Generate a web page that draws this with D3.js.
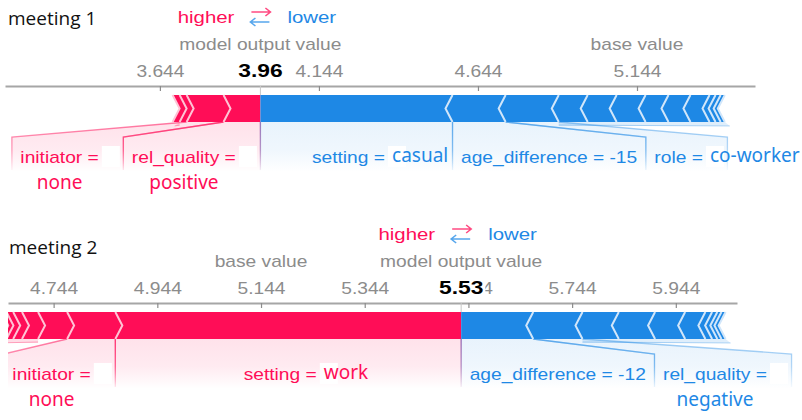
<!DOCTYPE html>
<html lang="en">
<head>
<meta charset="utf-8">
<title>Force plots: meeting 1 and meeting 2</title>
<script src="https://cdn.jsdelivr.net/npm/d3@7"></script>
<style>
  body { margin: 0; background: #fff; }
  svg { display: block; }
</style>
</head>
<body>
<script>
// ---- meeting 1 ----
var title1 = "meeting 1";
var base1 = 5.144;
var out1 = 3.96;
var domain1 = [3.157, 5.515];
var ticks1 = [3.644, 4.144, 4.644, 5.144];
// features pushing higher (red), nearest to the output value first
var posNames1 = ["rel_quality =", "initiator =", "", ""];
var posVals1 = ["positive", "none", "", ""];
var posEff1 = [0.116, 0.116, 0.022, 0.022];
// features pushing lower (blue), nearest to the output value first
var negNames1 = ["setting =", "age_difference = -15", "role =", "", "", "", "", "", "", "", "", ""];
var negVals1 = ["casual", "", "co-worker", "", "", "", "", "", "", "", "", ""];
var negEff1 = [0.604, 0.167, 0.167, 0.091, 0.091, 0.091, 0.072, 0.069, 0.060, 0.019, 0.016, 0.013];

// ---- meeting 2 ----
var title2 = "meeting 2";
var base2 = 5.144;
var out2 = 5.53;
var domain2 = [4.656, 6.062];
var ticks2 = [4.744, 4.944, 5.144, 5.344, 5.544, 5.744, 5.944];
var posNames2 = ["setting =", "initiator =", "", "", "", "", "", ""];
var posVals2 = ["work", "none", "", "", "", "", "", ""];
var posEff2 = [0.667, 0.093, 0.056, 0.031, 0.017, 0.013, 0.010, 0.008];
var negNames2 = ["age_difference = -12", "rel_quality =", "", "", "", "", "", "", "", ""];
var negVals2 = ["", "negative", "", "", "", "", "", "", "", ""];
var negEff2 = [0.139, 0.095, 0.070, 0.070, 0.058, 0.039, 0.013, 0.010, 0.008, 0.008];

// labels whose value sits on a second line
var stacked = ["initiator =", "rel_quality ="];

var W = 802, H = 420;
var SX = 1.2;            // the picture is stretched sideways
var RED = "#ff0d57", BLUE = "#1e88e5";
var RED_L = "rgb(255,195,213)", BLUE_L = "rgb(209,230,250)";
var ARIAL = "'Liberation Sans', Arial, sans-serif";
var VALFONT = "'Noto Sans', 'Open Sans', sans-serif";
var GRAY = "#8c8c8c";

var svg = d3.select("body").append("svg")
    .attr("width", W)
    .attr("height", H);
svg.append("rect").attr("width", W).attr("height", H).attr("fill", "#fff");
var defs = svg.append("defs");

// hidden text for measuring
var meas = svg.append("text").attr("font-family", ARIAL).attr("font-size", 16)
    .attr("visibility", "hidden");
function tw(s) { meas.text(s); return meas.node().getComputedTextLength() * SX; }

function sText(g, x, y, s, size, fill, anchor, weight) {
  return g.append("text")
    .attr("transform", "translate(" + x + "," + y + ") scale(" + SX + ",1)")
    .attr("font-family", ARIAL)
    .attr("font-size", size)
    .attr("font-weight", weight || "normal")
    .attr("text-anchor", anchor || "start")
    .attr("fill", fill)
    .text(s);
}

function drawForce(o) {
  var x = d3.scaleLinear().domain(o.domain).range(o.range);
  var g = svg.append("g");
  var axisY = o.axisY;
  var barTop = axisY + 9, barH = 27, bb = barTop + barH, mid = barTop + barH / 2;
  var xo = x(o.out);
  var T = 7, PAD = 17;
  var codeW = tw("= 0") - tw("=");

  function grad(id, color, a0, a1) {
    var lg = defs.append("linearGradient").attr("id", id)
      .attr("gradientUnits", "userSpaceOnUse")
      .attr("x1", 0).attr("x2", 0).attr("y1", bb).attr("y2", bb + 50);
    lg.append("stop").attr("offset", "0%").attr("stop-color", color).attr("stop-opacity", a0);
    lg.append("stop").attr("offset", "55%").attr("stop-color", color).attr("stop-opacity", a0 * 0.7);
    lg.append("stop").attr("offset", "100%").attr("stop-color", color).attr("stop-opacity", a1);
  }
  grad(o.id + "rf", RED, 0.12, 0);
  grad(o.id + "bf", BLUE, 0.10, 0);
  grad(o.id + "rs", RED, 0.55, 0.02);
  grad(o.id + "bs", BLUE, 0.45, 0.02);

  defs.append("clipPath").attr("id", "clip" + o.id)
    .append("rect").attr("x", o.range[0]).attr("y", 0).attr("width", W - o.range[0]).attr("height", H);

  // build blocks
  var cum = 0;
  var pos = o.posEff.map(function(e, i) {
    var hi = o.out - cum; cum += e;
    return { i: i, lo: o.out - cum, hi: hi, name: o.posNames[i], val: o.posVals[i], side: "pos" };
  });
  cum = 0;
  var neg = o.negEff.map(function(e, i) {
    var lo = o.out + cum; cum += e;
    return { i: i, lo: lo, hi: o.out + cum, name: o.negNames[i], val: o.negVals[i], side: "neg" };
  });

  // label regions
  var prev = xo;
  pos.forEach(function(d) {
    if (!d.name) return;
    d.bl = x(d.lo); d.br = x(d.hi);
    d.nameW = tw(d.name);
    var lw = d.nameW + (d.val ? codeW : 0) + PAD;
    d.rr = Math.min(d.br, prev);
    d.rl = Math.min(d.bl, d.rr - lw);
    prev = d.rl;
  });
  prev = xo;
  neg.forEach(function(d) {
    if (!d.name) return;
    d.bl = x(d.lo); d.br = x(d.hi);
    d.nameW = tw(d.name);
    var lw = d.nameW + (d.val ? codeW : 0) + PAD;
    d.rl = Math.max(d.bl, prev);
    d.rr = Math.max(d.br, d.rl + lw);
    prev = d.rr;
  });
  var labeled = pos.filter(function(d) { return d.name; })
    .concat(neg.filter(function(d) { return d.name; }));

  var under = g.append("g").attr("clip-path", "url(#clip" + o.id + ")");

  // connector fills
  under.selectAll("path.conn").data(labeled).enter().append("path")
    .attr("d", function(d) {
      return "M" + d.bl + "," + bb + "L" + d.br + "," + bb +
        "L" + d.rr + "," + (bb + 15) + "L" + d.rr + "," + (bb + 50) +
        "L" + d.rl + "," + (bb + 50) + "L" + d.rl + "," + (bb + 15) + "Z";
    })
    .attr("fill", function(d) { return "url(#" + o.id + (d.side === "pos" ? "rf" : "bf") + ")"; });

  // thin bands under the unlabelled tails
  function tail(list, side) {
    var rest = list.filter(function(d) { return !d.name; });
    if (!rest.length) return;
    var a = x(rest[0].lo), b = x(rest[rest.length - 1].hi);
    if (side === "pos") { var t = a; a = b; b = t; }
    var col = side === "pos" ? RED : BLUE;
    var far = side === "pos" ? a - 5 : b + 5;
    under.append("path")
      .attr("d", "M" + a + "," + bb + "L" + b + "," + bb + "L" + (side === "pos" ? b : far) + "," + (bb + 4) +
        "L" + (side === "pos" ? far : a) + "," + (bb + 4) + "Z")
      .attr("fill", col).attr("fill-opacity", 0.14);
    under.append("line")
      .attr("x1", side === "pos" ? b : a).attr("x2", far)
      .attr("y1", bb + 3).attr("y2", bb + 4)
      .attr("stroke", col).attr("stroke-opacity", 0.3).attr("stroke-width", 1);
  }
  tail(pos, "pos");
  tail(neg, "neg");

  // connector lines
  under.selectAll("path.cline").data(labeled).enter().append("path")
    .attr("d", function(d) {
      return "M" + d.bl + "," + bb + "L" + d.rl + "," + (bb + 15) + "L" + d.rl + "," + (bb + 48) +
        "M" + d.br + "," + bb + "L" + d.rr + "," + (bb + 15) + "L" + d.rr + "," + (bb + 48);
    })
    .attr("fill", "none")
    .attr("stroke-width", 1.3)
    .attr("stroke", function(d) { return "url(#" + o.id + (d.side === "pos" ? "rs" : "bs") + ")"; });

  // bars
  var bars = g.append("g").attr("clip-path", "url(#clip" + o.id + ")");
  var bot = barTop + barH;
  bars.selectAll("path.pos").data(pos).enter().append("path")
    .attr("d", function(d) {
      var l = x(d.lo), r = x(d.hi);
      return "M" + l + "," + barTop + "L" + r + "," + barTop + "L" + (r + (d.i ? T : 0)) + "," + mid +
        "L" + r + "," + bot + "L" + l + "," + bot + "L" + (l + T) + "," + mid + "Z";
    })
    .attr("fill", RED);
  bars.selectAll("path.neg").data(neg).enter().append("path")
    .attr("d", function(d) {
      var l = x(d.lo), r = x(d.hi);
      return "M" + l + "," + barTop + "L" + r + "," + barTop + "L" + (r - T) + "," + mid +
        "L" + r + "," + bot + "L" + l + "," + bot + "L" + (l - (d.i ? T : 0)) + "," + mid + "Z";
    })
    .attr("fill", BLUE);
  // chevron separators
  bars.selectAll("path.psep").data(pos).enter().append("path")
    .attr("d", function(d) {
      var l = x(d.lo);
      return "M" + l + "," + barTop + "L" + (l + T) + "," + mid + "L" + l + "," + bot;
    })
    .attr("fill", "none").attr("stroke", RED_L).attr("stroke-width", 2);
  bars.selectAll("path.nsep").data(neg).enter().append("path")
    .attr("d", function(d) {
      var r = x(d.hi);
      return "M" + r + "," + barTop + "L" + (r - T) + "," + mid + "L" + r + "," + bot;
    })
    .attr("fill", "none").attr("stroke", BLUE_L).attr("stroke-width", 2);

  // feature labels
  labeled.forEach(function(d) {
    var col = d.side === "pos" ? RED : BLUE;
    var textW = d.nameW + (d.val ? codeW : 0);
    var x0 = (d.rl + d.rr) / 2 - textW / 2;
    var y0 = bb + 41;
    if (d.val) {
      // white patch where the original code value was
      g.append("rect").attr("x", x0 + d.nameW + 3).attr("y", y0 - 17)
        .attr("width", codeW + 2).attr("height", 21).attr("fill", "#fff");
    }
    sText(g, x0, y0, d.name, 16, col);
    if (d.val) {
      var below = stacked.indexOf(d.name) >= 0;
      g.append("text")
        .attr("x", below ? x0 + d.nameW / 2 : x0 + d.nameW + 7)
        .attr("y", below ? y0 + 26 : y0 - 1)
        .attr("text-anchor", below ? "middle" : "start")
        .attr("font-family", VALFONT)
        .attr("font-size", 19)
        .attr("fill", col)
        .text(d.val);
    }
  });

  // axis
  var axis = d3.axisTop(x)
    .tickValues(o.ticks)
    .tickSizeInner(-5)
    .tickSizeOuter(0)
    .tickPadding(9)
    .tickFormat(d3.format(".3f"));
  var ag = g.append("g").attr("transform", "translate(0," + axisY + ")").call(axis);
  ag.select(".domain").attr("stroke", "#a6a6a6").attr("stroke-width", 2);
  ag.selectAll(".tick line").attr("stroke", "#8c8c8c").attr("stroke-width", 1.2);
  ag.selectAll(".tick text")
    .attr("font-family", ARIAL)
    .attr("font-size", 16)
    .attr("fill", GRAY)
    .attr("transform", "scale(" + SX + ",1)");

  // output value tick and label (it sits on a white patch, hiding a tick label below it)
  g.append("line").attr("x1", xo).attr("x2", xo).attr("y1", axisY).attr("y2", barTop)
    .attr("stroke", "#c8c8c8").attr("stroke-width", 1);
  var ol = sText(g, xo, axisY - 9, d3.format(".2f")(o.out), 19, "#000", "middle", "bold");
  var ow = ol.node().getComputedTextLength() * SX;
  g.insert("rect", function() { return ol.node(); })
    .attr("x", xo - ow / 2 - 2).attr("y", axisY - 25).attr("width", ow + 4).attr("height", 20)
    .attr("fill", "#fff");

  sText(g, xo, axisY - 36, "model output value", 16, GRAY, "middle");
  sText(g, x(o.base), axisY - 36, "base value", 16, GRAY, "middle");

  // higher / lower legend
  var ly = axisY - 63;
  sText(g, xo - 26, ly, "higher", 17, RED, "end");
  sText(g, xo + 27, ly, "lower", 17, BLUE, "start");
  g.append("path")
    .attr("d", "M" + (xo - 9) + "," + (ly - 11) + "H" + (xo + 10) + "M" + (xo + 5) + "," + (ly - 15) + "L" + (xo + 10) + "," + (ly - 11) + "L" + (xo + 5) + "," + (ly - 7))
    .attr("fill", "none").attr("stroke", RED).attr("stroke-opacity", 0.75).attr("stroke-width", 1.6);
  g.append("path")
    .attr("d", "M" + (xo + 9) + "," + (ly - 1) + "H" + (xo - 10) + "M" + (xo - 5) + "," + (ly - 5) + "L" + (xo - 10) + "," + (ly - 1) + "L" + (xo - 5) + "," + (ly + 3))
    .attr("fill", "none").attr("stroke", BLUE).attr("stroke-opacity", 0.75).attr("stroke-width", 1.6);

  // title
  g.append("text")
    .attr("x", o.titleX).attr("y", o.titleY)
    .attr("font-family", "'Open Sans', sans-serif")
    .attr("font-size", 19)
    .attr("fill", "#111")
    .text(o.title);
}

drawForce({
  id: "m1", title: title1, titleX: 8, titleY: 25, axisY: 86, range: [5, 755],
  base: base1, out: out1, domain: domain1, ticks: ticks1,
  posNames: posNames1, posVals: posVals1, posEff: posEff1,
  negNames: negNames1, negVals: negVals1, negEff: negEff1
});
drawForce({
  id: "m2", title: title2, titleX: 9, titleY: 254, axisY: 303, range: [8, 737],
  base: base2, out: out2, domain: domain2, ticks: ticks2,
  posNames: posNames2, posVals: posVals2, posEff: posEff2,
  negNames: negNames2, negVals: negVals2, negEff: negEff2
});
meas.remove();
</script>
</body>
</html>
